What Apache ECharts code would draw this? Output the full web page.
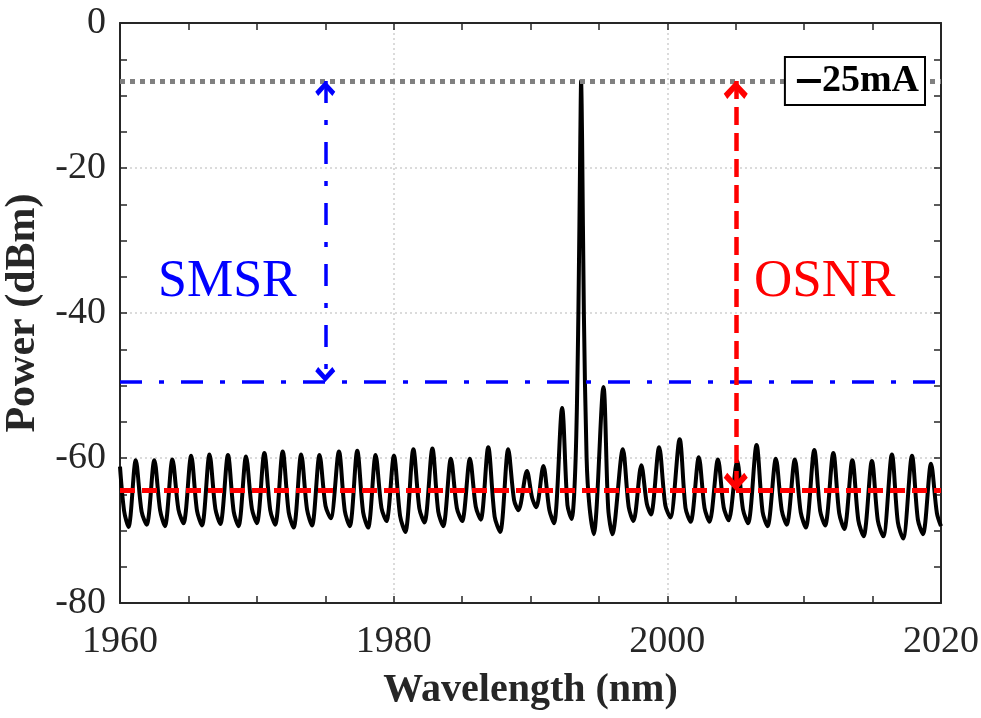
<!DOCTYPE html>
<html>
<head>
<meta charset="utf-8">
<script src="https://cdn.jsdelivr.net/npm/echarts@6/dist/echarts.min.js"></script>
<style>
html,body{margin:0;padding:0;background:#fff}
#chart{width:981px;height:718px}
</style>
</head>
<body>
<div id="chart"></div>
<script>
// spectrum: peak / shoulder / dip for each mode
var wavelength = [
 1960.00,1960.30,1960.62,
 1961.15,1961.58,1961.95,
 1962.51,1962.93,1963.28,
 1963.83,1964.27,1964.64,
 1965.20,1965.63,1965.99,
 1966.54,1966.97,1967.33,
 1967.89,1968.31,1968.66,
 1969.21,1969.64,1970.00,
 1970.55,1970.98,1971.34,
 1971.89,1972.33,1972.69,
 1973.24,1973.67,1974.03,
 1974.58,1975.02,1975.40,
 1976.00,1976.43,1976.79,
 1977.34,1977.77,1978.13,
 1978.68,1979.11,1979.47,
 1980.02,1980.47,1980.85,
 1981.44,1981.88,1982.25,
 1982.83,1983.26,1983.62,
 1984.18,1984.62,1985.00,
 1985.57,1986.00,1986.36,
 1986.91,1987.38,1987.78,
 1988.37,1988.80,1989.12,
 1989.74,1990.12,1990.42,
 1990.94,1991.38,1991.72,
 1992.31,1992.70,1993.00,
 1993.30,1993.50,1993.64,1993.70,1993.77,1993.90,1994.10,1994.30,1994.62,
 1995.33,1995.68,1995.98,
 1996.75,1997.18,1997.52,
 1998.10,1998.50,1998.80,
 1999.40,1999.85,2000.22,
 2000.90,2001.33,2001.70,
 2002.30,2002.72,2003.08,
 2003.70,2004.12,2004.48,
 2005.10,2005.53,2005.90,
 2006.52,2006.96,2007.32,
 2007.93,2008.36,2008.72,
 2009.32,2009.75,2010.12,
 2010.74,2011.17,2011.53,
 2012.13,2012.56,2012.93,
 2013.52,2013.96,2014.34,
 2014.95,2015.39,2015.78,
 2016.41,2016.85,2017.23,
 2017.88,2018.31,2018.68,
 2019.27,2019.70,2020.00
];
var power = [
 -61.2,-67.3,-69.5,
 -60.3,-67.4,-69.2,
 -60.3,-67.2,-69.4,
 -60.2,-67.1,-69.0,
 -59.7,-67.3,-69.3,
 -59.5,-67.0,-69.1,
 -59.6,-67.4,-69.4,
 -59.8,-67.0,-69.0,
 -59.3,-67.2,-69.2,
 -59.1,-67.5,-69.6,
 -59.5,-67.1,-69.3,
 -59.6,-66.6,-68.3,
 -59.1,-67.3,-69.4,
 -59.0,-67.5,-69.6,
 -59.6,-66.9,-68.7,
 -59.7,-68.0,-70.2,
 -58.8,-67.0,-68.9,
 -58.7,-67.4,-69.4,
 -60.1,-66.9,-68.7,
 -60.1,-66.7,-68.5,
 -58.5,-68.1,-70.2,
 -58.8,-65.8,-67.2,
 -61.8,-65.5,-66.8,
 -61.1,-67.2,-69.0,
 -53.1,-66.5,-68.4,
 -60.0,-40.0,-16.0,-8.0,-16.0,-40.0,-60.0,-66.5,-70.5,
 -50.2,-67.0,-70.5,
 -58.8,-66.8,-68.7,
 -61.0,-66.3,-67.8,
 -58.5,-66.5,-68.2,
 -57.4,-66.9,-68.8,
 -59.9,-66.9,-68.8,
 -60.2,-66.8,-68.6,
 -60.4,-67.1,-69.0,
 -58.2,-67.4,-69.4,
 -60.1,-67.2,-69.2,
 -60.2,-67.5,-69.6,
 -58.9,-67.3,-69.3,
 -59.3,-67.6,-69.8,
 -60.3,-68.6,-70.8,
 -60.4,-68.7,-70.8,
 -59.5,-68.9,-71.1,
 -59.7,-68.5,-70.5,
 -60.8,-67.6,-69.4
];

var peakLevel = -8;      // gray dotted
var smsrLevel = -49.5;   // blue dash-dot
var noiseLevel = -64.5;  // red dashed
var smsrAt = 1975;
var osnrAt = 2005;

var spectrum = [];
for (var i = 0; i < wavelength.length; i++) {
    spectrum.push([wavelength[i], power[i]]);
}

var serif = 'Liberation Serif';
var axisColor = '#262626';
// chevron with its tip at the centre of the box
var head = 'path://M0,-14 L0.01,-14 L0,-13.99 Z M0,0 L12,10 L8.5,14 L0,6.5 L-8.5,14 L-12,10 Z';

function frameAxis(pos, extra) {
    var a = {
        type: 'value',
        position: pos,
        axisLine: {show: true, onZero: false, lineStyle: {color: axisColor, width: 2}},
        axisTick: {show: true, inside: true, length: 7, lineStyle: {color: axisColor, width: 1.5}},
        minorTick: {show: true, splitNumber: 4, length: 7, lineStyle: {color: axisColor, width: 1.5}},
        splitLine: {show: false},
        axisLabel: {show: false}
    };
    for (var k in extra) a[k] = extra[k];
    return a;
}

var chart = echarts.init(document.getElementById('chart'));
var option = {
    backgroundColor: '#fff',
    animation: false,
    grid: {left: 120, right: 40, top: 23, bottom: 115, containLabel: false, outerBoundsMode: 'none'},
    legend: {
        data: [{name: '25mA', icon: 'rect'}],
        right: 56,
        top: 57,
        z: 10,
        itemWidth: 24,
        itemHeight: 4,
        itemGap: 0,
        padding: [5, 6, 5, 12],
        borderColor: '#000',
        borderWidth: 2,
        backgroundColor: '#fff',
        textStyle: {fontFamily: serif, fontWeight: 'bold', fontSize: 38, color: '#000', padding: [0, 0, 0, -4]}
    },
    xAxis: [
        frameAxis('bottom', {
            min: 1960, max: 2020, interval: 20,
            splitLine: {show: true, lineStyle: {color: '#cfcfcf', type: [2, 3], width: 1.5}},
            axisLabel: {show: true, fontFamily: serif, fontSize: 38, color: axisColor, margin: 20,
                        formatter: function (v) { return String(v); }},
            name: 'Wavelength (nm)',
            nameLocation: 'middle',
            nameGap: 68,
            nameTextStyle: {fontFamily: serif, fontWeight: 'bold', fontSize: 40, color: axisColor}
        }),
        frameAxis('top', {min: 1960, max: 2020, interval: 20})
    ],
    yAxis: [
        frameAxis('left', {
            min: -80, max: 0, interval: 20,
            splitLine: {show: true, lineStyle: {color: '#cfcfcf', type: [2, 3], width: 1.5}},
            axisLabel: {show: true, fontFamily: serif, fontSize: 38, color: axisColor, margin: 14},
            name: 'Power (dBm)',
            nameLocation: 'middle',
            nameGap: 72,
            nameTextStyle: {fontFamily: serif, fontWeight: 'bold', fontSize: 42, color: axisColor}
        }),
        frameAxis('right', {min: -80, max: 0, interval: 20})
    ],
    series: [
        {
            name: '25mA',
            type: 'line',
            data: spectrum,
            showSymbol: false,
            smooth: 0.3,
            color: '#000',
            lineStyle: {color: '#000', width: 4, join: 'round'},
            z: 2
        },
        {
            name: 'levels',
            type: 'line',
            data: [],
            z: 3,
            markLine: {
                silent: true,
                symbol: 'none',
                label: {show: false},
                data: [
                    [{coord: [1960, peakLevel], lineStyle: {color: '#808080', width: 5, type: [5, 5]}},
                     {coord: [2020, peakLevel]}],
                    [{coord: [1960, smsrLevel], lineStyle: {color: '#0000ff', width: 3.5, type: [22, 17, 5, 17]}},
                     {coord: [2020, smsrLevel]}],
                    [{coord: [1960, noiseLevel], lineStyle: {color: '#ff0000', width: 5, type: [15, 7]}},
                     {coord: [2020, noiseLevel]}]
                ]
            }
        },
        {
            name: 'arrows',
            type: 'line',
            data: [],
            z: 3,
            markLine: {
                silent: true,
                symbol: [head, head],
                label: {show: false},
                data: [
                    [{coord: [smsrAt, peakLevel], symbolSize: [20, 30],
                      lineStyle: {color: '#0000ff', width: 3.5, type: [22, 17, 5, 17]},
                      itemStyle: {color: '#0000ff'}},
                     {coord: [smsrAt, smsrLevel], symbolSize: [20, 30]}],
                    [{coord: [osnrAt, peakLevel], symbolSize: [24, 36],
                      lineStyle: {color: '#ff0000', width: 4.5, type: [18, 8]},
                      itemStyle: {color: '#ff0000'}},
                     {coord: [osnrAt, noiseLevel], symbolSize: [24, 36]}]
                ]
            }
        }
    ],
    graphic: [
        {type: 'text', left: 158, top: 256,
         style: {text: 'SMSR', fontFamily: serif, fontSize: 52, fill: '#0000ff'}},
        {type: 'text', left: 754, top: 256,
         style: {text: 'OSNR', fontFamily: serif, fontSize: 53, fill: '#ff0000'}}
    ]
};
chart.setOption(option);
window.onresize = chart.resize;
</script>
</body>
</html>
